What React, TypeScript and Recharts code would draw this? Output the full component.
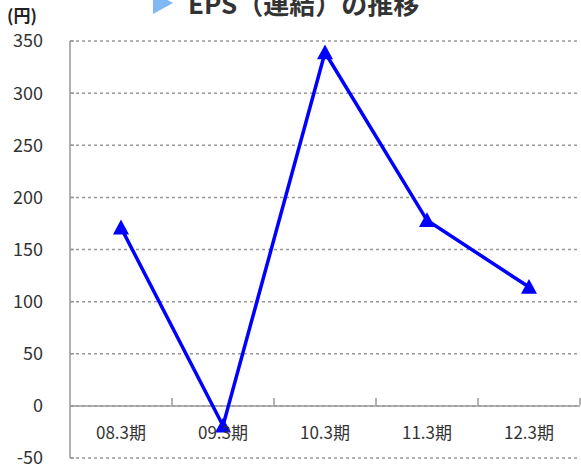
import React from 'react';
import {
  LineChart,
  Line,
  XAxis,
  YAxis,
  CartesianGrid,
  ReferenceLine,
} from 'recharts';

const periods = ['08.3期', '09.3期', '10.3期', '11.3期', '12.3期'];
const eps = [171, -19, 339, 178, 114];
const yTicks = [-50, 0, 50, 100, 150, 200, 250, 300, 350];

const data = periods.map((p, i) => ({ period: p, eps: eps[i] }));

const FONT = '"Noto Sans CJK JP", "Noto Sans", sans-serif';

// triangle marker like the Excel original
const TriangleDot = (props: any) => {
  const { cx, cy } = props;
  if (cx == null || cy == null) return null;
  const s = 8;
  return (
    <path
      d={`M${cx},${cy - s} L${cx + s},${cy + s * 0.85} L${cx - s},${cy + s * 0.85} Z`}
      fill="#0000ff"
    />
  );
};

// category label sits between the zero line and the -50 line,
// small tick marks at the category boundaries point up from zero
const PeriodTick = (props: any) => {
  const { x, y, payload } = props;
  const band = 102;
  return (
    <g>
      <text
        x={x}
        y={y - 27}
        textAnchor="middle"
        fontSize={17}
        fill="#333"
        fontFamily={FONT}
      >
        {payload.value}
      </text>
      <line
        x1={x + band / 2}
        x2={x + band / 2}
        y1={y - 61}
        y2={y - 68}
        stroke="#999"
        strokeWidth={1.5}
      />
    </g>
  );
};

export default function App() {
  return (
    <div
      style={{
        position: 'absolute',
        left: 0,
        top: 0,
        width: 581,
        height: 469,
        background: '#fff',
        fontFamily: FONT,
        overflow: 'hidden',
      }}
    >
      <div
        style={{
          position: 'absolute',
          left: 153,
          top: -16,
          display: 'flex',
          alignItems: 'center',
          whiteSpace: 'nowrap',
        }}
      >
        <svg width={20} height={22} style={{ marginRight: 15 }}>
          <path d="M0,0 L20,11 L0,22 Z" fill="#7fb8f5" />
        </svg>
        <span style={{ fontSize: 26, fontWeight: 700, color: '#333' }}>
          EPS（連結）の推移
        </span>
      </div>
      <div
        style={{
          position: 'absolute',
          left: 7,
          top: 4,
          fontSize: 17,
          lineHeight: '22px',
          fontWeight: 700,
          color: '#222',
        }}
      >
        (円)
      </div>
      <LineChart
        width={581}
        height={469}
        data={data}
        margin={{ top: 41, right: 1, left: 0, bottom: 0 }}
      >
        <CartesianGrid
          vertical={false}
          stroke="#999"
          strokeWidth={1.5}
          strokeDasharray="3 3"
        />
        <XAxis
          dataKey="period"
          height={11}
          axisLine={false}
          tickLine={false}
          interval={0}
          padding={{ left: 51, right: 51 }}
          tick={<PeriodTick />}
        />
        <YAxis
          width={70}
          domain={[-50, 350]}
          ticks={yTicks}
          interval={0}
          axisLine={{ stroke: '#999', strokeWidth: 1.5 }}
          tickLine={{ stroke: '#999', strokeWidth: 1.5 }}
          tickSize={-4}
          tickMargin={31}
          tick={{ fontSize: 18, fill: '#333', fontFamily: FONT }}
        />
        <ReferenceLine y={0} stroke="#999" strokeWidth={1.5} />
        <Line
          dataKey="eps"
          stroke="#0000ff"
          strokeWidth={3.5}
          dot={<TriangleDot />}
          isAnimationActive={false}
        />
      </LineChart>
    </div>
  );
}
